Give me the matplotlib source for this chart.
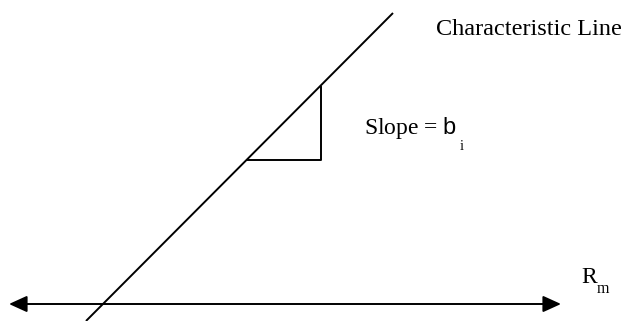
import matplotlib
matplotlib.use("Agg")
import matplotlib.pyplot as plt

# diagram geometry (pixel-like units, y grows downward)
axis_x = [9, 561]
axis_y = 304
line_x = [86, 393]
line_y = [321, 13]
tri_x = [248, 321, 321]
tri_y = [160, 160, 87]

label_line = "Characteristic Line"
label_slope = r"Slope = $\mathsf{b}$"
label_slope_sub = "i"
label_axis = "R"
label_axis_sub = "m"

plt.rcParams['font.family'] = ['Liberation Serif', 'DejaVu Serif']
plt.rcParams['mathtext.fontset'] = 'custom'
plt.rcParams['mathtext.rm'] = 'Liberation Serif'
plt.rcParams['mathtext.sf'] = 'Liberation Sans'

fig = plt.figure(figsize=(6.25, 3.21), dpi=100)
ax = fig.add_axes([0, 0, 1, 1])
ax.set_xlim(0, 625)
ax.set_ylim(321, 0)
ax.axis('off')

# market return axis with arrows on both ends
ax.annotate('', xy=(axis_x[1], axis_y), xytext=(axis_x[0], axis_y),
            arrowprops=dict(arrowstyle='<|-|>,head_length=11,head_width=5',
                            mutation_scale=1, lw=1.4, color='black',
                            shrinkA=0, shrinkB=0))

# characteristic line
ax.plot(line_x, line_y, color='black', lw=1.4, solid_capstyle='butt')

# slope triangle
ax.plot(tri_x, tri_y, color='black', lw=1.4)

ax.text(436, 35, label_line, fontsize=17.5, ha='left', va='baseline')

t = ax.text(364, 134, label_slope, fontsize=17, ha='left', va='baseline')
ax.annotate(label_slope_sub, xy=(1, 0), xycoords=t, xytext=(1.5, 1),
            textcoords='offset points', fontsize=10.5, ha='left', va='top')

r = ax.text(581, 283, label_axis, fontsize=17, ha='left', va='baseline')
ax.text(597, 293, label_axis_sub, fontsize=11.5, ha='left', va='baseline')

fig.savefig('out.png', dpi=100)
